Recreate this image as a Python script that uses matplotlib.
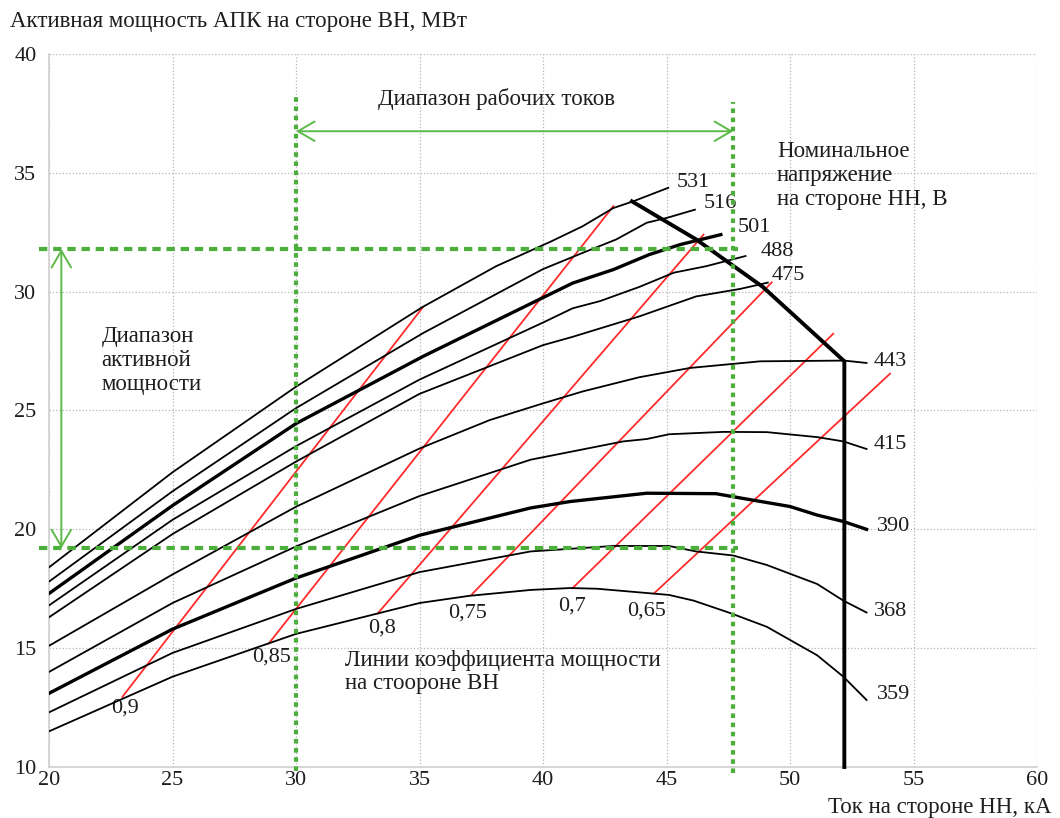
import matplotlib
matplotlib.use("Agg")
import matplotlib.pyplot as plt

plt.rcParams["font.family"] = ["Liberation Serif", "DejaVu Serif"]

# Voltage on LV side (labels of curves) and curve points: current kA, power MW
U_LABELS = ["531", "516", "501", "488", "475", "443", "415", "390", "368", "359"]
THICK = ["501", "390"]

I_531 = [20, 25, 30, 35.1, 38.1, 40.3, 41.6, 42.85, 43.65, 45.07]
P_531 = [18.4, 22.4, 26.0, 29.34, 31.07, 32.1, 32.75, 33.52, 33.8, 34.37]
I_516 = [20, 25, 30, 35.15, 40.0, 41.6, 42.97, 44.2, 45.0, 46.15]
P_516 = [17.8, 21.6, 25.1, 28.26, 30.95, 31.63, 32.2, 32.9, 33.1, 33.45]
I_501 = [20, 25, 30, 35.15, 40.0, 41.2, 42.85, 44.3, 45.55, 47.2]
P_501 = [17.3, 21.0, 24.45, 27.28, 29.75, 30.36, 30.93, 31.56, 31.98, 32.4]
I_488 = [20, 25, 30, 35, 40.0, 41.2, 42.3, 43.9, 45.3, 46.6, 48.2]
P_488 = [16.8, 20.4, 23.5, 26.3, 28.7, 29.3, 29.6, 30.2, 30.8, 31.07, 31.5]
I_475 = [20, 25, 30, 35, 40.0, 41.2, 43.9, 46.2, 48.0, 49.1]
P_475 = [16.3, 19.8, 22.85, 25.7, 27.75, 28.1, 28.96, 29.8, 30.12, 30.38]
I_443 = [20, 25, 30, 35, 37.85, 40.0, 41.6, 43.9, 45.95, 48.8, 52.2, 53.1]
P_443 = [15.1, 18.1, 20.95, 23.4, 24.6, 25.3, 25.8, 26.4, 26.79, 27.07, 27.1, 27.0]
I_415 = [20, 25, 30, 35, 39.5, 43.25, 44.2, 45.1, 47.3, 49.06, 51.1, 52.16, 53.1]
P_415 = [14.0, 16.9, 19.28, 21.4, 22.93, 23.7, 23.8, 24.0, 24.1, 24.09, 23.88, 23.7, 23.38]
I_390 = [20, 25, 30, 35, 39.5, 41.1, 44.2, 47.0, 48.1, 50.0, 51.1, 52.16, 53.1]
P_390 = [13.1, 15.8, 17.95, 19.75, 20.9, 21.17, 21.52, 21.5, 21.3, 20.96, 20.6, 20.33, 20.0]
I_368 = [20, 25, 30, 35, 39.5, 42.85, 45.1, 46.2, 47.7, 49.06, 51.1, 52.16, 53.1]
P_368 = [12.3, 14.8, 16.65, 18.2, 19.07, 19.3, 19.3, 19.07, 18.9, 18.5, 17.7, 17.0, 16.5]
I_359 = [20, 25, 30, 35, 37, 39.5, 41.1, 42.2, 45.1, 46.1, 47.6, 49.06, 51.1, 52.16, 53.1]
P_359 = [11.5, 13.8, 15.6, 16.9, 17.2, 17.45, 17.53, 17.5, 17.24, 17.0, 16.47, 15.9, 14.7, 13.8, 12.82]

CURVES_I = [I_531, I_516, I_501, I_488, I_475, I_443, I_415, I_390, I_368, I_359]
CURVES_P = [P_531, P_516, P_501, P_488, P_475, P_443, P_415, P_390, P_368, P_359]
U_LABEL_POS = [(45.4, 34.6), (46.5, 33.7), (47.9, 32.7), (48.8, 31.7), (49.26, 30.7),
               (53.4, 27.07), (53.4, 23.56), (53.5, 20.1), (53.4, 16.54), (53.5, 13.03)]

# Power factor lines (start on lowest curve, end point)
PF_LABELS = ["0,9", "0,85", "0,8", "0,75", "0,7", "0,65"]
PF_START_I = [22.97, 28.9, 33.3, 37.1, 41.19, 44.5]
PF_START_P = [12.95, 15.2, 16.45, 17.24, 17.52, 17.31]
PF_END_I = [35.13, 42.85, 46.5, 49.26, 51.75, 54.05]
PF_END_P = [29.34, 33.6, 32.4, 30.39, 28.23, 26.55]
PF_LABEL_POS = [(23.08, 12.47), (29.0, 14.64), (33.5, 15.84), (36.93, 16.47),
                (41.16, 16.79), (44.2, 16.58)]

# Limit (boundary) line
LIM_I = [43.6, 46.2, 48.9, 52.2, 52.2]
LIM_P = [33.8, 32.2, 30.2, 27.07, 10.0]

# Operating ranges
I_RANGE = (30.0, 47.7)
P_RANGE = (19.2, 31.8)

GREEN = "#4caf3c"
ARROW_GREEN = "#5cba47"
FS_NUM = 16
FS_TXT = 16.5
TXT_COLOR = "#1e1e1e"

fig = plt.figure(figsize=(10.6, 8.18), dpi=100)
ax = fig.add_axes([49 / 1060, 1 - 767 / 818, (1037 - 49) / 1060, (767 - 54) / 818])

ax.set_xlim(20, 60)
ax.set_ylim(10, 40)
ax.set_xticks(range(20, 61, 5))
ax.set_yticks(range(10, 41, 5))
ax.grid(True, color="#b5b5b5", linestyle=":", linewidth=0.9)
ax.tick_params(length=0, labelsize=FS_NUM, labelcolor=TXT_COLOR)
ax.tick_params(axis="y", pad=9)
ax.tick_params(axis="x", pad=3)
for side in ("top", "right"):
    ax.spines[side].set_visible(False)
for side in ("left", "bottom"):
    ax.spines[side].set_color("#d0d0d0")
    ax.spines[side].set_linewidth(1.2)

# red power factor lines
for xs, ys, xe, ye, lab, pos in zip(PF_START_I, PF_START_P, PF_END_I, PF_END_P,
                                    PF_LABELS, PF_LABEL_POS):
    ax.plot([xs, xe], [ys, ye], color="#ff2b2b", lw=1.3, zorder=3)
    ax.text(pos[0], pos[1], lab, fontsize=FS_NUM, ha="center", va="center",
            color=TXT_COLOR)

# voltage curves
for lab, xi, yi, pos in zip(U_LABELS, CURVES_I, CURVES_P, U_LABEL_POS):
    lw = 2.4 if lab in THICK else 1.3
    ax.plot(xi, yi, color="black", lw=lw, zorder=4)
    ax.text(pos[0], pos[1], lab, fontsize=FS_NUM, ha="left", va="center",
            color=TXT_COLOR)

ax.plot(LIM_I, LIM_P, color="black", lw=2.8, zorder=5, clip_on=False)

# green range lines
ax.plot([19.6, 47.9], [P_RANGE[1]] * 2, color=GREEN, lw=3, ls=(0, (2, 1.4)),
        clip_on=False, zorder=6)
ax.plot([19.6, 47.9], [P_RANGE[0]] * 2, color=GREEN, lw=3, ls=(0, (2, 1.4)),
        clip_on=False, zorder=6)
ax.plot([I_RANGE[0]] * 2, [9.85, 38.2], color=GREEN, lw=3, ls=(0, (1.1, 1.1)),
        clip_on=False, zorder=6)
ax.plot([I_RANGE[1]] * 2, [9.75, 38.0], color=GREEN, lw=3, ls=(0, (1.1, 1.1)),
        clip_on=False, zorder=6)

arrow = dict(arrowstyle="<->,head_length=0.6,head_width=0.35", color=ARROW_GREEN,
             lw=1.4, mutation_scale=20, shrinkA=0, shrinkB=0)
ax.annotate("", xy=(I_RANGE[1], 36.75), xytext=(I_RANGE[0], 36.75), arrowprops=arrow)
ax.annotate("", xy=(20.5, P_RANGE[0]), xytext=(20.5, P_RANGE[1]), arrowprops=arrow)

ax.text(38.1, 38.1, "Диапазон рабочих токов", fontsize=FS_TXT, ha="center",
        va="center", color=TXT_COLOR)
ax.text(49.47, 34.88, "Номинальное\nнапряжение\nна стороне НН, В", fontsize=FS_TXT,
        ha="left", va="center", linespacing=1.17, color=TXT_COLOR)
ax.text(22.13, 27.1, "Диапазон\nактивной\nмощности", fontsize=FS_TXT,
        ha="left", va="center", linespacing=1.17, color=TXT_COLOR)
ax.text(31.98, 14.0, "Линии коэффициента мощности\nна стооронe ВН", fontsize=FS_TXT,
        ha="left", va="center", linespacing=1.12, color=TXT_COLOR)

fig.text(10 / 1060, 1 - 22 / 818, "Активная мощность АПК на стороне ВН, МВт",
         fontsize=FS_TXT, ha="left", va="center", color=TXT_COLOR)
fig.text(1052 / 1060, 1 - 807 / 818, "Ток на стороне НН, кА",
         fontsize=FS_TXT, ha="right", va="center", color=TXT_COLOR)

fig.savefig("out.png", dpi=100)
